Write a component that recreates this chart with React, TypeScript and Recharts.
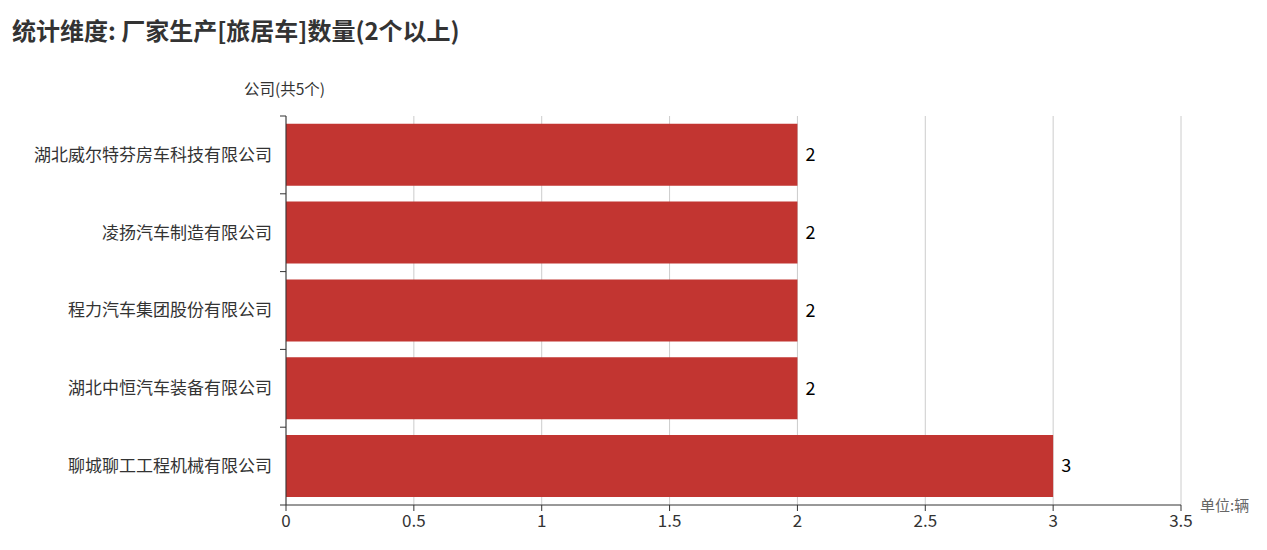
import React from "react";
import { BarChart, Bar, XAxis, YAxis, CartesianGrid, LabelList } from "recharts";

const companies = [
  "湖北威尔特芬房车科技有限公司",
  "凌扬汽车制造有限公司",
  "程力汽车集团股份有限公司",
  "湖北中恒汽车装备有限公司",
  "聊城聊工工程机械有限公司",
];
const counts = [2, 2, 2, 2, 3];
const xTicks = [0, 0.5, 1, 1.5, 2, 2.5, 3, 3.5];

const data = companies.map((name, i) => ({ name, count: counts[i] }));

const W = 1267;
const H = 550;
const M = { top: 116, right: 86, bottom: 15, left: 0 };
const Y_AXIS_W = 286;
const X_AXIS_H = 30;
const PLOT_H = H - M.top - M.bottom - X_AXIS_H;
const BAND = PLOT_H / companies.length;

const FONT = '"Noto Sans CJK SC", "Noto Sans", sans-serif';
const AXIS = "#333";

// category label plus tick marks on the band boundaries
const CompanyTick = (props: any) => {
  const { x, y, payload, index } = props;
  const top = y - BAND / 2;
  const last = index === companies.length - 1;
  return (
    <g>
      <line x1={x - 6} x2={x} y1={top} y2={top} stroke={AXIS} />
      {last && <line x1={x - 6} x2={x} y1={top + BAND} y2={top + BAND} stroke={AXIS} />}
      <text x={x - 14} y={y} dy="0.35em" textAnchor="end" fill="#333" fontSize={17} fontFamily={FONT}>
        {payload.value}
      </text>
    </g>
  );
};

export default function App() {
  return (
    <div style={{ position: "absolute", left: 0, top: 0, width: W, height: H, fontFamily: FONT, background: "#fff" }}>
      <div style={{ position: "absolute", left: 12, top: 12, fontSize: 24, fontWeight: 700, color: "#333", whiteSpace: "nowrap" }}>
        统计维度: 厂家生产[旅居车]数量(2个以上)
      </div>
      <div style={{ position: "absolute", left: 244, top: 77, fontSize: 15.5, color: "#333", whiteSpace: "nowrap" }}>
        公司(共5个)
      </div>
      <div style={{ position: "absolute", left: 1200, top: 494, fontSize: 15, color: "#666", whiteSpace: "nowrap" }}>
        单位:辆
      </div>
      <BarChart
        width={W}
        height={H}
        data={data}
        layout="vertical"
        margin={M}
        barCategoryGap="10%"
      >
        <CartesianGrid horizontal={false} stroke="#ccc" />
        <XAxis
          type="number"
          domain={[0, 3.5]}
          ticks={xTicks}
          height={X_AXIS_H}
          tickSize={6}
          tickMargin={4}
          stroke={AXIS}
          tick={{ fill: "#333", fontSize: 17, fontFamily: FONT }}
        />
        <YAxis
          type="category"
          dataKey="name"
          width={Y_AXIS_W}
          tickSize={0}
          tickMargin={0}
          tickLine={false}
          stroke={AXIS}
          tick={<CompanyTick />}
          interval={0}
        />
        <Bar dataKey="count" fill="#c23531" isAnimationActive={false}>
          <LabelList dataKey="count" position="right" offset={8} fill="#000" fontSize={18} fontFamily={FONT} />
        </Bar>
      </BarChart>
    </div>
  );
}
